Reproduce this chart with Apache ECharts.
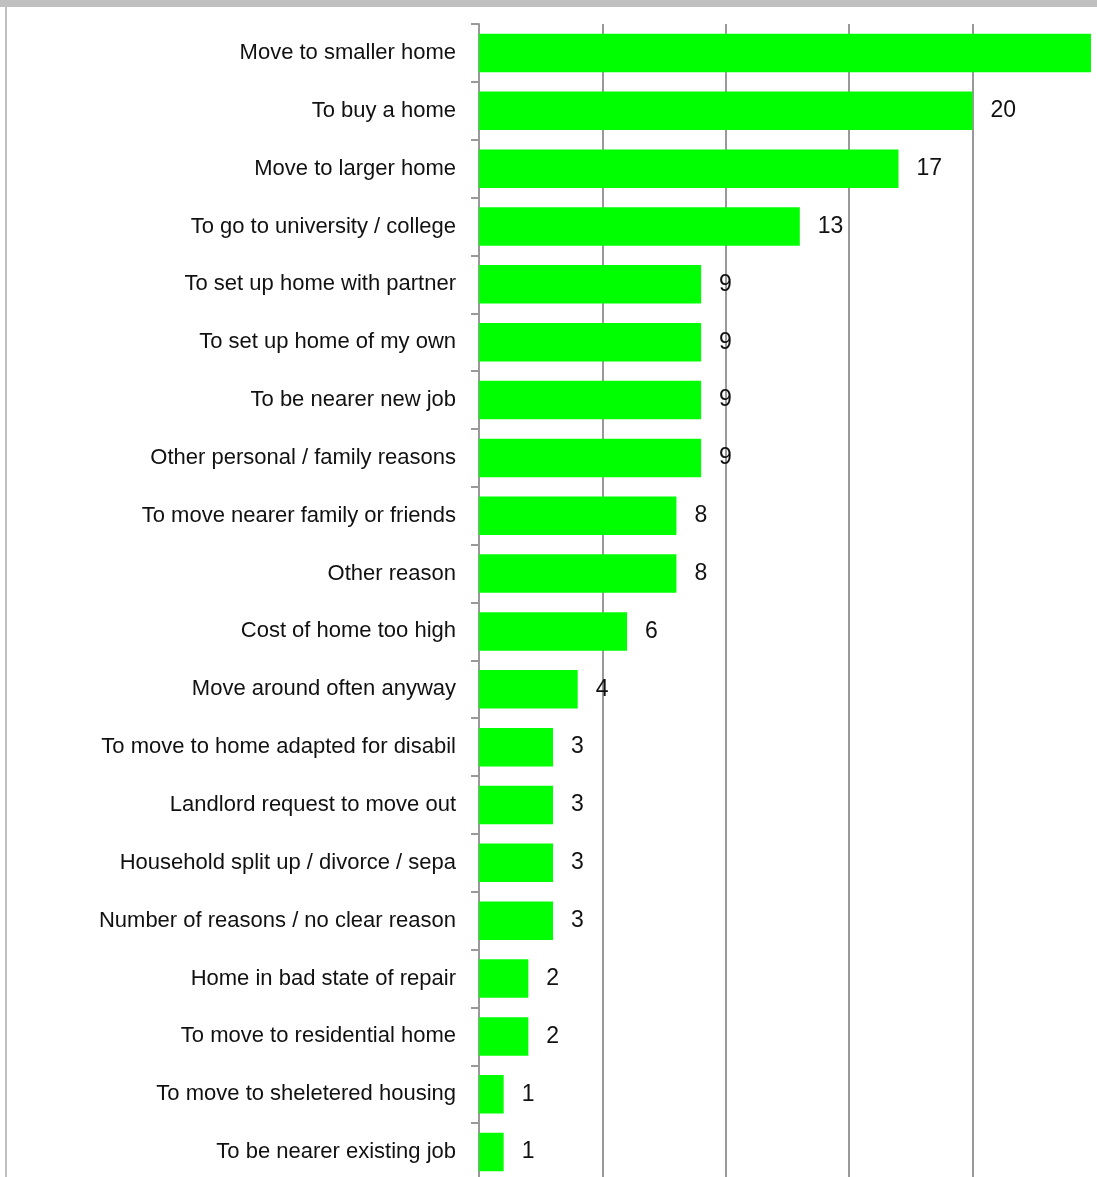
<!DOCTYPE html>
<html>
<head>
<meta charset="utf-8">
<script src="https://cdn.jsdelivr.net/npm/echarts@6/dist/echarts.min.js"></script>
<style>
html,body{margin:0;padding:0;background:#fff;}
#chart{width:1097px;height:1177px;}
</style>
</head>
<body>
<div id="chart"></div>
<script>
const categories = [
  "Move to smaller home",
  "To buy a home",
  "Move to larger home",
  "To go to university / college",
  "To set up home with partner",
  "To set up home of my own",
  "To be nearer new job",
  "Other personal / family reasons",
  "To move nearer family or friends",
  "Other reason",
  "Cost of home too high",
  "Move around often anyway",
  "To move to home adapted for disabil",
  "Landlord request to move out",
  "Household split up / divorce / sepa",
  "Number of reasons / no clear reason",
  "Home in bad state of repair",
  "To move to residential home",
  "To move to sheletered housing",
  "To be nearer existing job"
];
const values = [25, 20, 17, 13, 9, 9, 9, 9, 8, 8, 6, 4, 3, 3, 3, 3, 2, 2, 1, 1];
const xTickInterval = 5;
const xMax = 24.8;

const FONT = "'Liberation Sans Narrow', 'Arial Narrow', 'Liberation Sans', Arial, sans-serif";
const chart = echarts.init(document.getElementById('chart'), null, {renderer: 'canvas'});
chart.setOption({
  animation: false,
  backgroundColor: '#ffffff',
  grid: {left: 479, width: 612, top: 24, height: 1157, containLabel: false, outerBoundsMode: 'none'},
  xAxis: {
    type: 'value',
    min: 0,
    max: xMax,
    interval: xTickInterval,
    axisLine: {show: false},
    axisTick: {show: false},
    axisLabel: {show: false},
    splitLine: {show: true, showMinLine: false, showMaxLine: false, lineStyle: {color: '#999999', width: 2}}
  },
  yAxis: {
    type: 'category',
    data: categories,
    inverse: true,
    boundaryGap: true,
    axisLine: {show: true, lineStyle: {color: '#999999', width: 2}},
    axisTick: {show: true, length: 8, alignWithLabel: false, lineStyle: {color: '#999999', width: 2}},
    axisLabel: {color: '#111111', fontSize: 22, fontFamily: FONT, margin: 23},
    splitLine: {show: false}
  },
  series: [{
    type: 'bar',
    data: values,
    barWidth: 38.5,
    clip: true,
    itemStyle: {color: '#00ff00'},
    label: {show: true, position: 'right', distance: 18, color: '#111111', fontSize: 23, fontFamily: FONT}
  }],
  graphic: [
    {type: 'rect', shape: {x: 0, y: 0, width: 1097, height: 7}, style: {fill: '#c0c0c0'}, silent: true},
    {type: 'rect', shape: {x: 5, y: 7, width: 2, height: 1170}, style: {fill: '#c0c0c0'}, silent: true}
  ]
});
</script>
</body>
</html>
